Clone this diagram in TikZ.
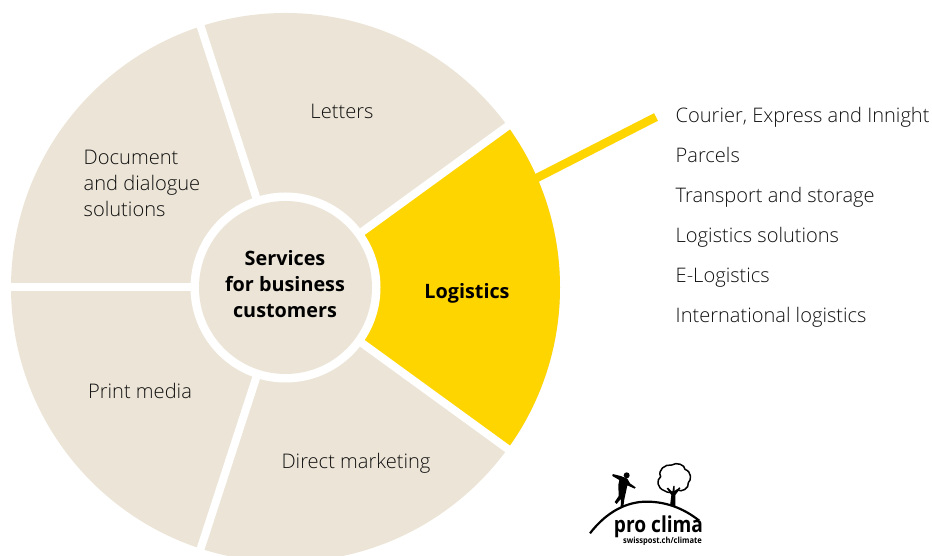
\documentclass[tikz,border=0pt]{standalone}
\usepackage{fontspec}
\usetikzlibrary{calc}
\setmainfont{Open Sans}[UprightFont=* Light,BoldFont=* Bold]
\definecolor{sandc}{HTML}{ECE5D7}
\definecolor{postyellow}{HTML}{FFD500}
\definecolor{inkc}{HTML}{111111}
\tikzset{
  lbl/.style={text=inkc,font=\fontsize{20.1}{26}\selectfont,inner sep=0pt,anchor=base},
  listitem/.style={lbl,anchor=base west,font=\fontsize{20.05}{26}\selectfont},
  hub/.style={text=black,font=\fontsize{19.8}{26}\selectfont\bfseries,inner sep=0pt,anchor=base},
  gap/.style={white,line width=8pt,line cap=butt},
  pointer/.style={postyellow,line width=8.5pt,line cap=butt}
}
\begin{document}
\begin{tikzpicture}[x=1pt,y=1pt]
\useasboundingbox (0,0) rectangle (932,556);
\clip (0,0) rectangle (932,556);
\coordinate (c) at (285.5,268.5);
\coordinate (pstart) at (528,373.5);
\coordinate (pend) at (656,439);
\fill[sandc] (c) circle[radius=274.5];
\fill[postyellow] (c) -- ($(c)+(-36:274.5)$) arc[start angle=-36,end angle=36,radius=274.5] -- cycle;
\draw[pointer] (pstart) -- (pend);
\foreach \a in {36,108,180,252,324}{
  \draw[gap] (c) -- ($(c)+(\a:300)$);
}
\fill[white] (c) circle[radius=95];
\fill[sandc] (c) circle[radius=86.5];
% labels
\node[lbl] (letters) at (342,437.5) {Letters};
\node[hub] (logistics) at (467,257.2) {Logistics};
\node[hub] (s1) at (285,290.2) {Services};
\node[hub] (s2) at (285,264.2) {for business};
\node[hub] (s3) at (285,238.2) {customers};
\node[lbl,anchor=base west] (d1) at (83.5,391.5) {Document};
\node[lbl,anchor=base west] (d2) at (83.5,365.5) {and dialogue};
\node[lbl,anchor=base west] (d3) at (83.5,339.5) {solutions};
\node[lbl] (print) at (140,157.5) {Print media};
\node[lbl] (direct) at (356,87.5) {Direct marketing};
\node[listitem] (l1) at (675.5,433.5) {Courier, Express and Innight};
\node[listitem] (l2) at (675.5,393.5) {Parcels};
\node[listitem] (l3) at (675.5,353.5) {Transport and storage};
\node[listitem] (l4) at (675.5,313.5) {Logistics solutions};
\node[listitem] (l5) at (675.5,273.5) {E-Logistics};
\node[listitem] (l6) at (675.5,233.5) {International logistics};
% logo
\begin{scope}[shift={(570,106)},xscale=1/3,yscale=-1/3]
  \draw[black,line width=2.2pt] (60,250) .. controls (110,185) and (170,155) .. (230,155) .. controls (295,155) and (350,180) .. (395,218);
  \fill[black] (170,76) circle[radius=9];
  \fill[black] (128,72) -- (152,78) -- (172,86) -- (180,100) -- (197,112) -- (194,116) -- (172,106) -- (168,125) -- (163,148) -- (160,170) -- (152,170) -- (153,146) -- (140,162) -- (134,156) -- (146,138) -- (145,105) -- (148,90) -- (127,78) -- cycle;
  \draw[black,line width=1.5pt,fill=white] (283,122) .. controls (262,115) and (258,90) .. (272,80) .. controls (262,60) and (285,42) .. (305,45) .. controls (320,35) and (345,45) .. (345,58) .. controls (365,65) and (365,90) .. (355,98) .. controls (358,115) and (335,128) .. (322,120) .. controls (312,130) and (293,130) .. (283,122) -- cycle;
  \fill[black] (300,168) -- (304,135) -- (290,115) -- (294,113) -- (307,126) -- (310,108) -- (314,108) -- (314,125) -- (328,112) -- (331,115) -- (316,135) -- (316,168) -- cycle;
\end{scope}
\fill[white] (610,20) rectangle (706,36);
\node[text=black,font=\fontsize{22}{24}\selectfont\bfseries,inner sep=0pt,anchor=base,xscale=0.87] (pc) at (658.5,23) {pro clima};
\node[text=black,font=\fontsize{8.4}{10}\selectfont\bfseries,inner sep=0pt,anchor=base,xscale=0.9] (pu) at (662.5,12.8) {swisspost.ch/climate};
\end{tikzpicture}
\end{document}
